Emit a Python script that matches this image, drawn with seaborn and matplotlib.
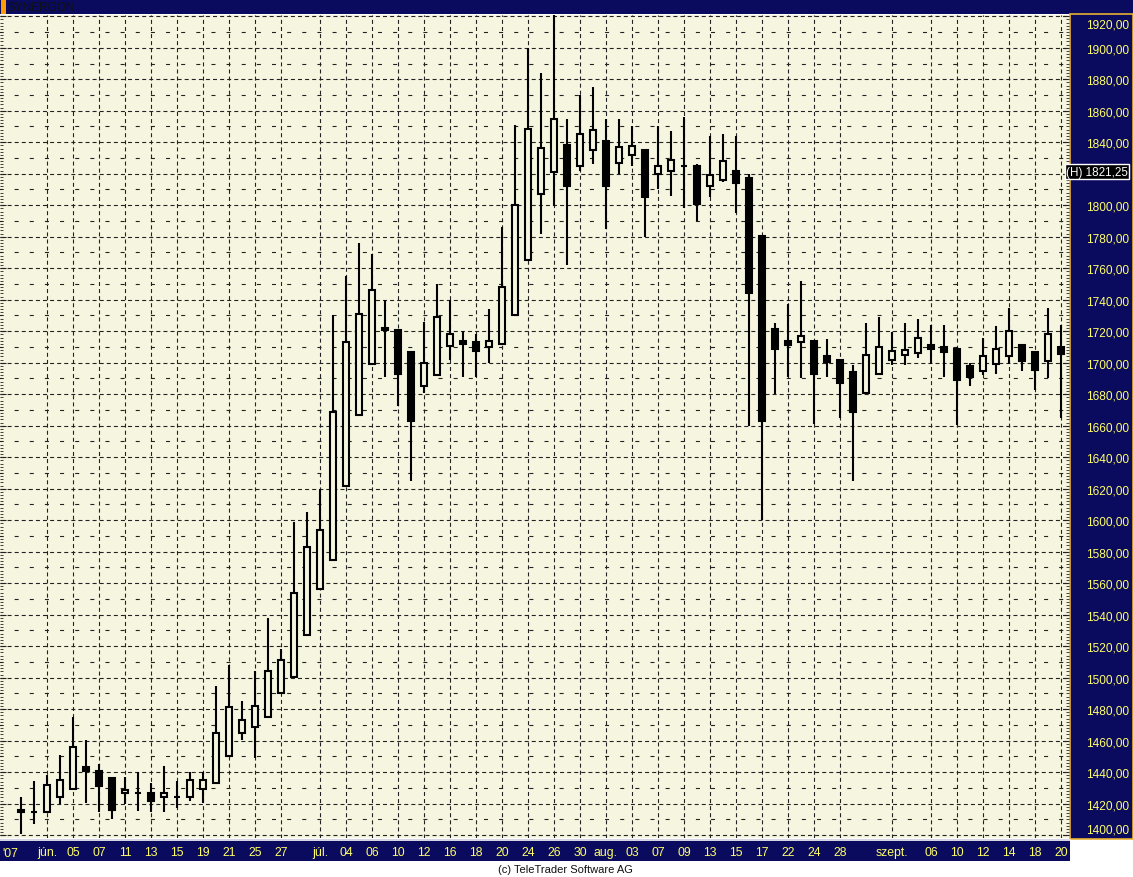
import numpy as np
import pandas as pd
import matplotlib
matplotlib.use("Agg")
import matplotlib.pyplot as plt
import matplotlib.transforms as mtransforms
from matplotlib.patches import Rectangle
from matplotlib.ticker import MultipleLocator
import seaborn as sns

# trading days on the Budapest exchange (Aug 20 is a holiday)
days = pd.bdate_range("2007-05-30", "2007-09-20")
days = days[days != pd.Timestamp("2007-08-20")]

opens = [1416, 1415, 1415, 1424, 1429, 1443, 1441, 1436, 1426.5, 1427,
         1427, 1424.5, 1424.5, 1424, 1429.5, 1433, 1450, 1465, 1469, 1475,
         1490, 1500.5, 1527, 1556, 1575, 1622, 1667, 1699, 1722, 1721,
         1707, 1685, 1692, 1710.5, 1714, 1713, 1710, 1712, 1730, 1765,
         1807, 1821, 1838, 1825, 1835, 1841, 1827, 1832, 1835, 1820,
         1822, 1825, 1825, 1812.5, 1816, 1822, 1817, 1780.5, 1721.5, 1714,
         1713, 1714, 1704, 1702, 1694, 1681, 1693, 1701.5, 1705, 1706,
         1711, 1710, 1708.5, 1698, 1694.5, 1699.5, 1704, 1711.5, 1706.5, 1701,
         1710]
highs = [1424.5, 1434.5, 1438, 1451, 1475, 1460.5, 1445, 1436, 1437, 1440,
         1433, 1444, 1434.5, 1440, 1440, 1495, 1508, 1485, 1504, 1538,
         1518, 1599, 1605, 1620, 1730, 1755, 1776, 1769, 1740, 1721,
         1707, 1726, 1750, 1740, 1720, 1718, 1734, 1786, 1851, 1900,
         1884, 1921, 1855, 1870, 1875, 1855, 1855, 1850, 1835, 1850,
         1847, 1856, 1826.5, 1844, 1845, 1844, 1820, 1780.5, 1725, 1737,
         1752, 1714, 1715, 1702, 1698.5, 1725, 1729, 1719.5, 1725, 1728,
         1724, 1724, 1710, 1700, 1716, 1723, 1735, 1711.5, 1706.5, 1734.5,
         1724]
lows = [1400.5, 1407, 1415, 1420, 1429, 1420.5, 1415, 1410, 1420, 1415.5,
        1415, 1415, 1417, 1422, 1420.5, 1433, 1449.5, 1460.5, 1449, 1475,
        1490, 1500.5, 1527, 1556, 1575, 1622, 1667, 1699, 1691, 1672.5,
        1625, 1681, 1692, 1702, 1691, 1691, 1700, 1712, 1730, 1765,
        1781.5, 1799.5, 1762, 1821.5, 1826, 1785, 1820, 1825, 1780, 1810.5,
        1806, 1798.5, 1790, 1805, 1815, 1795, 1660, 1600, 1680, 1691,
        1690, 1661, 1691, 1665, 1625, 1681, 1693, 1698.5, 1698.5, 1703,
        1699.5, 1691, 1660.5, 1685, 1692, 1693, 1699.5, 1695, 1682.5, 1690,
        1665]
closes = [1414.5, 1415, 1432, 1435, 1456, 1441, 1431, 1416, 1428.5, 1427,
          1422, 1426.5, 1424.5, 1435, 1435, 1465, 1481.5, 1473, 1482, 1504.5,
          1511, 1554, 1583, 1594, 1669, 1713, 1731, 1746, 1720.5, 1693,
          1663, 1700, 1729, 1718, 1712, 1707.5, 1714, 1748, 1800, 1848.5,
          1836.5, 1855, 1812, 1845.5, 1848, 1812.5, 1837, 1837.5, 1805, 1825,
          1828.5, 1825, 1801, 1819.5, 1828, 1814, 1744.5, 1663, 1708.5, 1711,
          1717, 1693, 1700.5, 1687, 1669, 1705, 1710, 1707.5, 1708, 1716,
          1708.5, 1707, 1689, 1691, 1704, 1708.5, 1720, 1701, 1695.5, 1718,
          1705.5]

tick_dates = ["2007-06-01", "2007-06-05", "2007-06-07", "2007-06-11", "2007-06-13",
              "2007-06-15", "2007-06-19", "2007-06-21", "2007-06-25", "2007-06-27",
              "2007-07-02", "2007-07-04", "2007-07-06", "2007-07-10", "2007-07-12",
              "2007-07-16", "2007-07-18", "2007-07-20", "2007-07-24", "2007-07-26",
              "2007-07-30", "2007-08-01", "2007-08-03", "2007-08-07", "2007-08-09",
              "2007-08-13", "2007-08-15", "2007-08-17", "2007-08-22", "2007-08-24",
              "2007-08-28", "2007-09-03", "2007-09-06", "2007-09-10", "2007-09-12",
              "2007-09-14", "2007-09-18", "2007-09-20"]
tick_text = ["jún.", "05", "07", "11", "13", "15", "19", "21", "25", "27",
             "júl.", "04", "06", "10", "12", "16", "18", "20", "24", "26",
             "30", "aug.", "03", "07", "09", "13", "15", "17", "22", "24",
             "28", "szept.", "06", "10", "12", "14", "18", "20"]
price_levels = list(range(1400, 1921, 20))
last_high = 1821.25

df = pd.DataFrame({"date": days, "open": opens, "high": highs,
                   "low": lows, "close": closes})
df["x"] = np.arange(len(df))
df["up"] = df["close"] >= df["open"]

NAVY = "#0a0a5e"
YELLOW = "#ffff6a"
BG = "#f6f6e0"

sns.set_style("white")
plt.rcParams["font.family"] = ["Liberation Sans", "DejaVu Sans"]
plt.rcParams["lines.scale_dashes"] = False

W, H = 1133, 878
fig = plt.figure(figsize=(W / 100, H / 100), dpi=100, facecolor="white")

# title bar
fig.patches.append(Rectangle((0, 1 - 15 / H), 1, 15 / H, transform=fig.transFigure,
                             facecolor=NAVY, edgecolor="none", zorder=-2))
fig.patches.append(Rectangle((1 / W, 1 - 15 / H), 5 / W, 14 / H, transform=fig.transFigure,
                             facecolor="#ff9a00", edgecolor="none", zorder=-1))
fig.text(8 / W, 1 - 8 / H, "SYNERGON", color="#111111", fontsize=8.5,
         ha="left", va="center")

# date bar and price panel
fig.patches.append(Rectangle((0, (H - 862) / H), 1070 / W, 22 / H, transform=fig.transFigure,
                             facecolor=NAVY, edgecolor="none", zorder=-2))
fig.patches.append(Rectangle((1070 / W, (H - 840) / H), 63 / W, 825 / H,
                             transform=fig.transFigure, facecolor=NAVY,
                             edgecolor="#e8b030", linewidth=1.2, zorder=-2))
fig.lines.append(plt.Line2D([0, 1070 / W], [(H - 840.5) / H] * 2, transform=fig.transFigure,
                            color="white", lw=1.2, zorder=-1))

ax = fig.add_axes([0, (H - 839) / H, 1069 / W, (839 - 16) / H])
ax.set_facecolor(BG)
for s in ax.spines.values():
    s.set_visible(False)

ax.set_xlim(-21 / 13, 1048 / 13)
ax.set_ylim(1398.2, 1920.8)

# grid
tick_pos = [df.index[df["date"] == pd.Timestamp(d)][0] for d in tick_dates]
ax.set_xticks(tick_pos)
ax.set_xticklabels(tick_text, color=YELLOW, fontsize=8.8)
ax.set_yticks(price_levels)
ax.yaxis.set_minor_locator(MultipleLocator(2))
ax.tick_params(axis="x", direction="out", length=3, color=YELLOW, pad=2.5, width=1)
ax.tick_params(axis="y", which="major", direction="in", length=4, left=True, right=True,
               labelleft=False, color="#222222")
ax.tick_params(axis="y", which="minor", direction="in", length=2.2, left=True, right=True,
               color="#222222")
ax.grid(True, which="major", axis="both", color="#222222", lw=0.8,
        linestyle=(0, (2.9, 2.2)))
minor_levels = [p + 10 for p in price_levels[:-1]]
ax.hlines(minor_levels, -2, 82, color="#222222", lw=0.8,
          linestyles=[(0, (2.9, 8.0))], zorder=0.5)
ax.set_axisbelow(True)

# candles
ax.vlines(df["x"], df["low"], df["high"], color="black", lw=1.5, zorder=3)
up = df[df["up"]]
dn = df[~df["up"]]
ax.bar(up["x"], up["close"] - up["open"], bottom=up["open"], width=0.52,
       facecolor=BG, edgecolor="black", linewidth=1.5, zorder=4)
ax.bar(dn["x"], dn["open"] - dn["close"], bottom=dn["close"], width=0.52,
       facecolor="black", edgecolor="black", linewidth=1.5, zorder=4)

ax.text(-0.85, -0.0115, "'07", transform=mtransforms.blended_transform_factory(ax.transData, ax.transAxes),
        color=YELLOW, fontsize=8.8, ha="center", va="top")

# price labels on the right panel (the 1820 label sits under the last-high box)
tr = mtransforms.blended_transform_factory(fig.transFigure, ax.transData)
for p in price_levels:
    if p == 1820:
        continue
    if p == 1920:
        va, yy = "top", p - 1.5
    elif p == 1400:
        va, yy = "bottom", p - 0.5
    else:
        va, yy = "center", p - 1.0
    ax.text(1129 / W, yy, f"{p},00", transform=tr, color=YELLOW, fontsize=8.6,
            ha="right", va=va, clip_on=False)
ax.text(1128 / W, last_high, "(H) " + f"{last_high:.2f}".replace(".", ","), transform=tr,
        color="white", fontsize=8.4, ha="right", va="center", clip_on=False,
        bbox=dict(boxstyle="square,pad=0.12", facecolor="black", edgecolor="white", lw=1))

fig.text(565 / W, 1 - 870.5 / H, "(c) TeleTrader Software AG", color="#111111",
         fontsize=8, ha="center", va="center")

fig.savefig("out.png", dpi=100, facecolor="white")
